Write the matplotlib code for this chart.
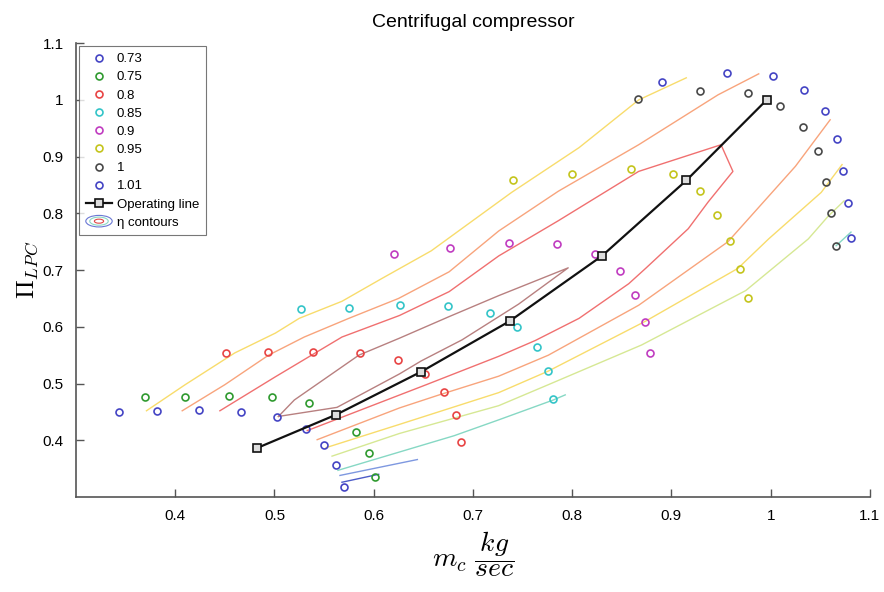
import matplotlib.pyplot as plt
from matplotlib.legend_handler import HandlerBase
from matplotlib.patches import Ellipse, Patch

plt.rcParams['font.family'] = ['Liberation Sans', 'DejaVu Sans']
plt.rcParams['mathtext.fontset'] = 'cm'

# --- speed lines (corrected speed), measured points ---
speed_labels = ['0.73', '0.75', '0.8', '0.85', '0.9', '0.95', '1', '1.01']
speed_colors = ['#4444c4', '#2f9a2f', '#e84444', '#33c4c8', '#c03cc0',
                '#c4c41c', '#484848', '#4444c4']

m_073 = [0.343, 0.382, 0.424, 0.466, 0.503, 0.532, 0.550, 0.562, 0.570]
pr_073 = [0.450, 0.452, 0.454, 0.450, 0.441, 0.419, 0.391, 0.356, 0.317]
m_075 = [0.370, 0.410, 0.454, 0.497, 0.535, 0.582, 0.595, 0.601]
pr_075 = [0.476, 0.477, 0.478, 0.476, 0.466, 0.414, 0.378, 0.336]
m_080 = [0.451, 0.493, 0.539, 0.586, 0.624, 0.652, 0.671, 0.683, 0.688]
pr_080 = [0.554, 0.555, 0.555, 0.553, 0.541, 0.516, 0.485, 0.444, 0.397]
m_085 = [0.527, 0.575, 0.626, 0.675, 0.717, 0.744, 0.765, 0.776, 0.781]
pr_085 = [0.631, 0.634, 0.638, 0.637, 0.625, 0.599, 0.565, 0.522, 0.472]
m_090 = [0.620, 0.677, 0.736, 0.785, 0.823, 0.848, 0.863, 0.873, 0.878]
pr_090 = [0.728, 0.739, 0.748, 0.746, 0.728, 0.698, 0.656, 0.609, 0.554]
m_095 = [0.740, 0.800, 0.859, 0.902, 0.929, 0.946, 0.959, 0.969, 0.977]
pr_095 = [0.858, 0.870, 0.879, 0.869, 0.839, 0.798, 0.752, 0.702, 0.650]
m_100 = [0.866, 0.929, 0.977, 1.009, 1.033, 1.048, 1.056, 1.061, 1.066]
pr_100 = [1.001, 1.016, 1.012, 0.990, 0.953, 0.910, 0.855, 0.800, 0.742]
m_101 = [0.891, 0.956, 1.002, 1.034, 1.055, 1.067, 1.073, 1.078, 1.081]
pr_101 = [1.031, 1.048, 1.042, 1.018, 0.980, 0.932, 0.875, 0.818, 0.757]

speed_m = [m_073, m_075, m_080, m_085, m_090, m_095, m_100, m_101]
speed_pr = [pr_073, pr_075, pr_080, pr_085, pr_090, pr_095, pr_100, pr_101]

# --- operating line ---
op_m = [0.482, 0.562, 0.648, 0.737, 0.830, 0.915, 0.996]
op_pr = [0.386, 0.445, 0.521, 0.610, 0.725, 0.858, 1.000]

# --- efficiency contours (traced) ---
eta_blue_dark_x = [0.568, 0.605]
eta_blue_dark_y = [0.326, 0.340]
eta_blue_light_x = [0.566, 0.644]
eta_blue_light_y = [0.338, 0.366]
eta_cyan_x = [0.564, 0.681, 0.726, 0.781, 0.793]
eta_cyan_y = [0.347, 0.408, 0.436, 0.471, 0.480]
eta_cyan2_x = [1.066, 1.081]
eta_cyan2_y = [0.743, 0.767]
eta_yg_x = [0.558, 0.626, 0.726, 0.776, 0.870, 0.975, 1.038, 1.058, 1.074]
eta_yg_y = [0.372, 0.412, 0.461, 0.498, 0.568, 0.664, 0.755, 0.795, 0.822]
eta_yel_lo_x = [0.552, 0.626, 0.726, 0.776, 0.874, 0.967, 0.998, 1.051, 1.072]
eta_yel_lo_y = [0.387, 0.428, 0.484, 0.522, 0.610, 0.703, 0.755, 0.837, 0.886]
eta_yel_hi_x = [0.371, 0.410, 0.460, 0.501, 0.525, 0.568, 0.608, 0.658, 0.739, 0.807, 0.867, 0.915]
eta_yel_hi_y = [0.452, 0.498, 0.554, 0.589, 0.615, 0.645, 0.685, 0.734, 0.837, 0.916, 1.000, 1.039]
eta_org_lo_x = [0.543, 0.626, 0.666, 0.726, 0.776, 0.867, 0.957, 1.025, 1.060]
eta_org_lo_y = [0.401, 0.457, 0.480, 0.513, 0.550, 0.638, 0.750, 0.883, 0.965]
eta_org_hi_x = [0.407, 0.450, 0.494, 0.530, 0.575, 0.625, 0.676, 0.726, 0.786, 0.867, 0.947, 0.988]
eta_org_hi_y = [0.452, 0.498, 0.550, 0.582, 0.615, 0.650, 0.697, 0.769, 0.839, 0.921, 1.009, 1.046]
eta_red_x = [0.445, 0.501, 0.568, 0.626, 0.676, 0.726, 0.786, 0.867, 0.950, 0.962,
             0.937, 0.917, 0.874, 0.857, 0.807, 0.763, 0.726, 0.653, 0.533]
eta_red_y = [0.452, 0.512, 0.582, 0.620, 0.662, 0.725, 0.787, 0.874, 0.921, 0.874,
             0.820, 0.773, 0.703, 0.676, 0.615, 0.576, 0.548, 0.498, 0.417]
eta_brown_x = [0.504, 0.520, 0.585, 0.626, 0.676, 0.726, 0.796, 0.746, 0.689, 0.648, 0.626, 0.563, 0.504]
eta_brown_y = [0.442, 0.471, 0.550, 0.580, 0.618, 0.655, 0.704, 0.640, 0.577, 0.540, 0.517, 0.458, 0.442]

contours = [
    (eta_blue_dark_x, eta_blue_dark_y, '#4d5cc8'),
    (eta_blue_light_x, eta_blue_light_y, '#7e98e0'),
    (eta_cyan_x, eta_cyan_y, '#86d8c4'),
    (eta_cyan2_x, eta_cyan2_y, '#86d8c4'),
    (eta_yg_x, eta_yg_y, '#d6e894'),
    (eta_yel_lo_x, eta_yel_lo_y, '#f8dc6c'),
    (eta_yel_hi_x, eta_yel_hi_y, '#f8dc6c'),
    (eta_org_lo_x, eta_org_lo_y, '#f8a47c'),
    (eta_org_hi_x, eta_org_hi_y, '#f8a47c'),
    (eta_red_x, eta_red_y, '#f07070'),
    (eta_brown_x, eta_brown_y, '#b88080'),
]


class HandlerContours(HandlerBase):
    def create_artists(self, legend, orig_handle, xdescent, ydescent,
                       width, height, fontsize, trans):
        cx = width / 2 - xdescent
        cy = height / 2 - ydescent
        arts = []
        for s, c in [(1.0, '#6a78d4'), (0.7, '#8cd8c4'), (0.35, '#e04848')]:
            arts.append(Ellipse((cx, cy), width * s, height * 1.25 * s, fill=False,
                                edgecolor=c, lw=0.8, transform=trans))
        return arts


fig = plt.figure(figsize=(8.84, 5.92), dpi=100)
ax = fig.add_axes([0.086, 0.1605, 0.898, 0.7665])

for cx, cy, col in contours:
    ax.plot(cx, cy, color=col, lw=1.0)

handles = []
for lab, col, mx, my in zip(speed_labels, speed_colors, speed_m, speed_pr):
    h, = ax.plot(mx, my, 'o', ms=5, mfc='none', mec=col, mew=1.2, label=lab)
    handles.append(h)

h_op, = ax.plot(op_m, op_pr, '-s', color='#111111', lw=1.6, ms=6,
                mfc='#dddddd', mec='#111111', mew=1.2, label='Operating line')
handles.append(h_op)
proxy = Patch(label='η contours')
handles.append(proxy)

ax.set_xlim(0.3, 1.1)
ax.set_ylim(0.3, 1.1)
ax.set_xticks([0.4, 0.5, 0.6, 0.7, 0.8, 0.9, 1.0, 1.1])
ax.set_xticklabels(['0.4', '0.5', '0.6', '0.7', '0.8', '0.9', '1', '1.1'])
ax.set_yticks([0.4, 0.5, 0.6, 0.7, 0.8, 0.9, 1.0, 1.1])
ax.set_yticklabels(['0.4', '0.5', '0.6', '0.7', '0.8', '0.9', '1', '1.1'])
ax.tick_params(direction='in', length=6, width=1, color='#555555', labelsize=11, pad=9)
for s in ['top', 'right']:
    ax.spines[s].set_visible(False)
for s in ['left', 'bottom']:
    ax.spines[s].set_color('#555555')
    ax.spines[s].set_linewidth(1.2)

ax.set_title('Centrifugal compressor', fontsize=14, pad=12)
ax.set_xlabel(r'$m_c\ \dfrac{kg}{sec}$', fontsize=20, labelpad=4)
ax.set_ylabel(r'$\Pi_{LPC}$', fontsize=18, labelpad=2)

leg = ax.legend(handles=handles, loc='upper left', bbox_to_anchor=(0.004, 0.993),
                borderaxespad=0, fontsize=9.5, labelspacing=0.45, handlelength=2.0,
                handletextpad=0.35, borderpad=0.5, fancybox=False, numpoints=1,
                handler_map={proxy: HandlerContours()})
leg.get_frame().set_edgecolor('#555555')
leg.get_frame().set_linewidth(0.8)

fig.savefig('out.png', dpi=100)
